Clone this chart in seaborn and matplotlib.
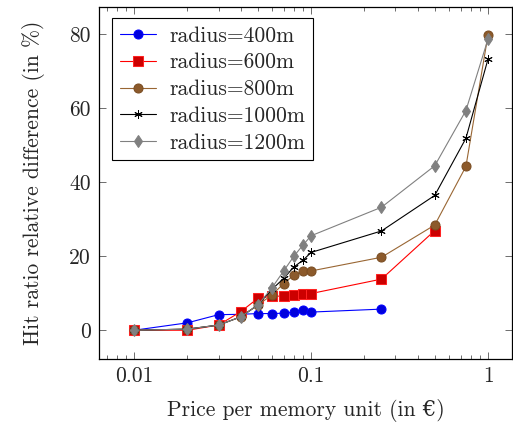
import matplotlib
matplotlib.use("Agg")
import matplotlib.pyplot as plt
import matplotlib.ticker as mticker
import seaborn as sns
import pandas as pd

x400 = [0.01, 0.02, 0.03, 0.04, 0.05, 0.06, 0.07, 0.08, 0.09, 0.1, 0.25]
y400 = [0.0, 2.0, 4.2, 4.3, 4.5, 4.5, 4.6, 4.9, 5.4, 4.9, 5.7]

x600 = [0.01, 0.02, 0.03, 0.04, 0.05, 0.06, 0.07, 0.08, 0.09, 0.1, 0.25, 0.5]
y600 = [0.0, 0.0, 1.4, 5.0, 8.6, 9.2, 9.2, 9.5, 9.7, 9.9, 13.8, 26.9]

x800 = [0.01, 0.02, 0.03, 0.04, 0.05, 0.06, 0.07, 0.08, 0.09, 0.1, 0.25, 0.5, 0.75, 1.0]
y800 = [0.0, 0.3, 1.4, 3.6, 6.8, 9.5, 12.6, 14.9, 16.0, 16.0, 19.7, 28.4, 44.2, 79.7]

x1000 = [0.01, 0.02, 0.03, 0.04, 0.05, 0.06, 0.07, 0.08, 0.09, 0.1, 0.25, 0.5, 0.75, 1.0]
y1000 = [0.0, 0.3, 1.4, 3.6, 6.8, 11.0, 14.0, 17.1, 18.9, 21.0, 26.8, 36.4, 51.8, 73.2]

x1200 = [0.01, 0.02, 0.03, 0.04, 0.05, 0.06, 0.07, 0.08, 0.09, 0.1, 0.25, 0.5, 0.75, 1.0]
y1200 = [0.0, 0.3, 1.4, 3.6, 6.8, 11.4, 16.0, 20.0, 23.0, 25.5, 33.2, 44.4, 59.3, 78.6]

labels = ["radius=400m", "radius=600m", "radius=800m", "radius=1000m", "radius=1200m"]
xlabel = "Price per memory unit (in €)"
ylabel = "Hit ratio relative difference (in %)"
xticks = [0.01, 0.1, 1]
xticklabels = ["0.01", "0.1", "1"]
yticks = [0, 20, 40, 60, 80]

sns.set_theme(style="white")
plt.rcParams["font.family"] = ["cmr10", "DejaVu Serif"]
plt.rcParams["mathtext.fontset"] = "cm"
plt.rcParams["axes.formatter.use_mathtext"] = True
plt.rcParams["axes.unicode_minus"] = False

FS = 15.5

fig = plt.figure(figsize=(5.13, 4.24), dpi=100)
ax = fig.add_axes([0.193, 0.153, 0.805, 0.830])

styles = [
    dict(color="#0000ff", marker="o", markersize=6.5, markerfacecolor="#0000dd", markeredgecolor="#0000ff"),
    dict(color="#ff0000", marker="s", markersize=6.5, markerfacecolor="#cc0000", markeredgecolor="#ff2222"),
    dict(color="#996633", marker="o", markersize=6.5, markerfacecolor="#8c5a2b", markeredgecolor="#7a4d22"),
    dict(color="#000000", marker=(6, 2, 0), markersize=6, markerfacecolor="black", markeredgecolor="black", markeredgewidth=0.7),
    dict(color="#808080", marker="d", markersize=6, markerfacecolor="#808080", markeredgecolor="#808080"),
]
xs = [x400, x600, x800, x1000, x1200]
ys = [y400, y600, y800, y1000, y1200]

for xv, yv, lab, st in zip(xs, ys, labels, styles):
    df = pd.DataFrame({"x": xv, "y": yv})
    sns.lineplot(data=df, x="x", y="y", ax=ax, label=lab, linewidth=0.8, **st)

ax.set_xscale("log")
ax.set_xlim(0.00633, 1.366)
ax.set_ylim(-7.8, 87.2)
ax.xaxis.set_major_locator(mticker.FixedLocator(xticks))
ax.xaxis.set_major_formatter(mticker.FixedFormatter(xticklabels))
ax.xaxis.set_minor_locator(mticker.LogLocator(base=10, subs=range(2, 10)))
ax.xaxis.set_minor_formatter(mticker.NullFormatter())
ax.set_yticks(yticks)
ax.set_yticklabels([str(v) for v in yticks])

ax.tick_params(axis="both", which="both", direction="in", top=True, right=True,
               bottom=True, left=True, color="#555555", width=0.6, labelsize=FS)
ax.tick_params(axis="y", pad=6)
ax.tick_params(axis="x", pad=5)
ax.tick_params(which="major", length=5)
ax.tick_params(which="minor", length=3)

for s in ax.spines.values():
    s.set_color("black")
    s.set_linewidth(0.9)

ax.set_xlabel(xlabel, fontsize=FS, labelpad=10)
ax.set_ylabel(ylabel, fontsize=FS, labelpad=17)

leg = ax.legend(loc="upper left", bbox_to_anchor=(0.032, 0.968), fontsize=FS, frameon=True,
                fancybox=False, edgecolor="black", framealpha=1, borderpad=0.35,
                labelspacing=0.34, handlelength=1.7, handletextpad=0.6, borderaxespad=0)
leg.get_frame().set_linewidth(0.8)

fig.savefig("out.png", dpi=100)
